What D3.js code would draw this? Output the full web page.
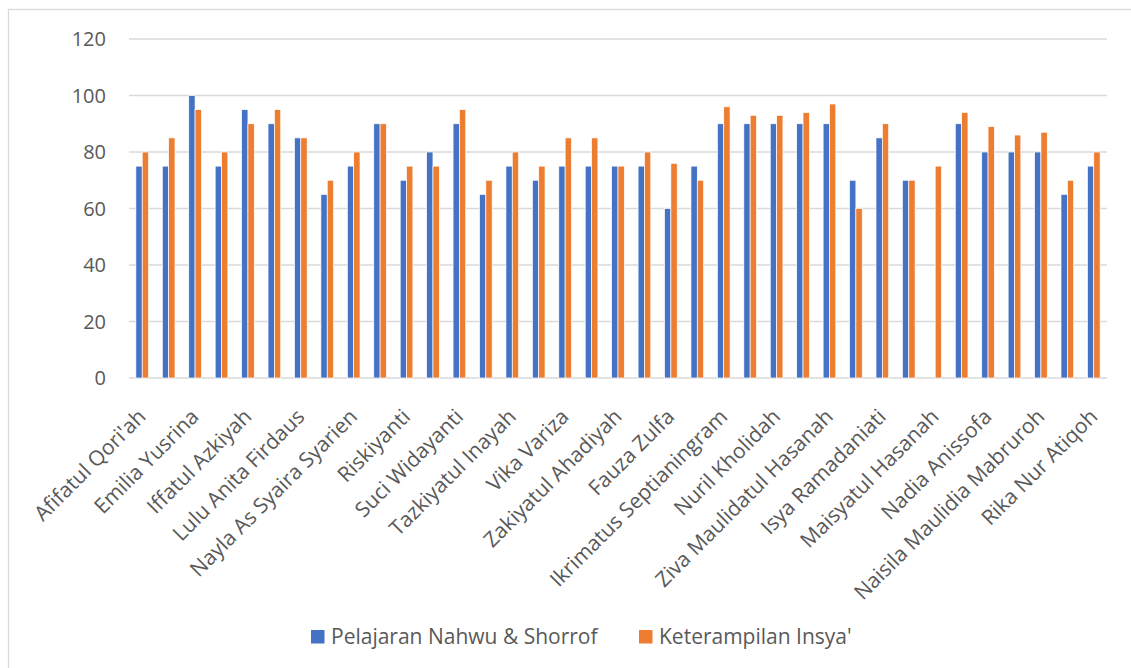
<!DOCTYPE html>
<html>
<head>
<meta charset="utf-8">
<script src="https://cdn.jsdelivr.net/npm/d3@7"></script>
<style>
  body { margin: 0; background: #fff; }
  text { font-family: "Open Sans", sans-serif; }
</style>
</head>
<body>
<svg id="chart" width="1131" height="668"></svg>
<script>
// labels shown on the axis (Excel skips every second category)
const labels = ["Afifatul Qori'ah", "Emilia Yusrina", "Iffatul Azkiyah", "Lulu Anita Firdaus",
    "Nayla As Syaira Syarien", "Riskiyanti", "Suci Widayanti", "Tazkiyatul Inayah", "Vika Variza",
    "Zakiyatul Ahadiyah", "Fauza Zulfa", "Ikrimatus Septianingram", "Nuril Kholidah",
    "Ziva Maulidatul Hasanah", "Isya Ramadaniati", "Maisyatul Hasanah", "Nadia Anissofa",
    "Naisila Maulidia Mabruroh", "Rika Nur Atiqoh"]

const nahwu = [75, 75, 100, 75, 95, 90, 85, 65, 75, 90, 70, 80, 90, 65, 75, 70, 75, 75, 75,
    75, 60, 75, 90, 90, 90, 90, 90, 70, 85, 70, 0, 90, 80, 80, 80, 65, 75]
const insya = [80, 85, 95, 80, 90, 95, 85, 70, 80, 90, 75, 75, 95, 70, 80, 75, 85, 85, 75,
    80, 76, 70, 96, 93, 93, 94, 97, 60, 90, 70, 75, 94, 89, 86, 87, 70, 80]

const seriesNames = ["Pelajaran Nahwu & Shorrof", "Keterampilan Insya'"]
const colors = ["#4472C4", "#ED7D31"]
const yTicks = [0, 20, 40, 60, 80, 100, 120]

const svg = d3.select("#chart")
const plot = {left: 129, right: 1107, top: 39, bottom: 378}

// chart border
svg.append("rect")
    .attr("x", 8.5).attr("y", 9.5)
    .attr("width", 1200).attr("height", 700)
    .attr("fill", "none")
    .attr("stroke", "#d9d9d9")
    .attr("stroke-width", 1.3)

const x0 = d3.scaleBand()
    .domain(d3.range(nahwu.length))
    .range([plot.left, plot.right])
    .paddingInner(0.52)
    .paddingOuter(0.26)
const x1 = d3.scaleBand().domain([0, 1]).range([0, x0.bandwidth()])
const y = d3.scaleLinear().domain([0, 120]).range([plot.bottom, plot.top])

// gridlines
svg.append("g").selectAll("line")
    .data(yTicks)
    .enter().append("line")
    .attr("x1", plot.left).attr("x2", plot.right)
    .attr("y1", d => y(d)).attr("y2", d => y(d))
    .attr("stroke", "#d9d9d9")
    .attr("stroke-width", 1.3)

// y labels
svg.append("g").selectAll("text")
    .data(yTicks)
    .enter().append("text")
    .attr("x", 106)
    .attr("y", d => y(d))
    .attr("dy", "0.35em")
    .attr("text-anchor", "end")
    .attr("fill", "#595959")
    .style("font-size", "20px")
    .text(d => d)

// bars
const rows = nahwu.map((v, i) => ({i: i, values: [v, insya[i]]}))
const group = svg.append("g").selectAll("g")
    .data(rows)
    .enter().append("g")
    .attr("transform", d => "translate(" + x0(d.i) + ",0)")

group.selectAll("rect")
    .data(d => d.values.map((v, k) => ({k: k, v: v})))
    .enter().append("rect")
    .attr("x", d => x1(d.k))
    .attr("width", x1.bandwidth())
    .attr("y", d => y(d.v))
    .attr("height", d => plot.bottom - y(d.v))
    .attr("fill", d => colors[d.k])
    .attr("stroke", d => d.v > 0 ? "#fff" : "none")
    .attr("stroke-width", 0.7)

// x axis labels
const xAxis = svg.append("g")
    .attr("transform", "translate(0," + plot.bottom + ")")
    .call(d3.axisBottom(x0).tickSize(0).tickFormat(i => i % 2 === 0 ? labels[i / 2] : ""))
xAxis.select(".domain").remove()
xAxis.selectAll("text")
    .attr("x", 0).attr("y", 0).attr("dy", 0)
    .attr("transform", "translate(5,40) rotate(-45)")
    .attr("text-anchor", "end")
    .attr("fill", "#595959")
    .style("font-size", "21px")
    .style("font-family", "'Open Sans', sans-serif")

// legend
const legend = svg.append("g").selectAll("g")
    .data(seriesNames)
    .enter().append("g")
    .attr("transform", (d, i) => "translate(" + [311, 639][i] + ",630)")
legend.append("rect")
    .attr("width", 13.5).attr("height", 13.5)
    .attr("fill", (d, i) => colors[i])
legend.append("text")
    .attr("x", 20).attr("y", 14)
    .attr("fill", "#595959")
    .style("font-size", "21px")
    .text(d => d)
</script>
</body>
</html>
